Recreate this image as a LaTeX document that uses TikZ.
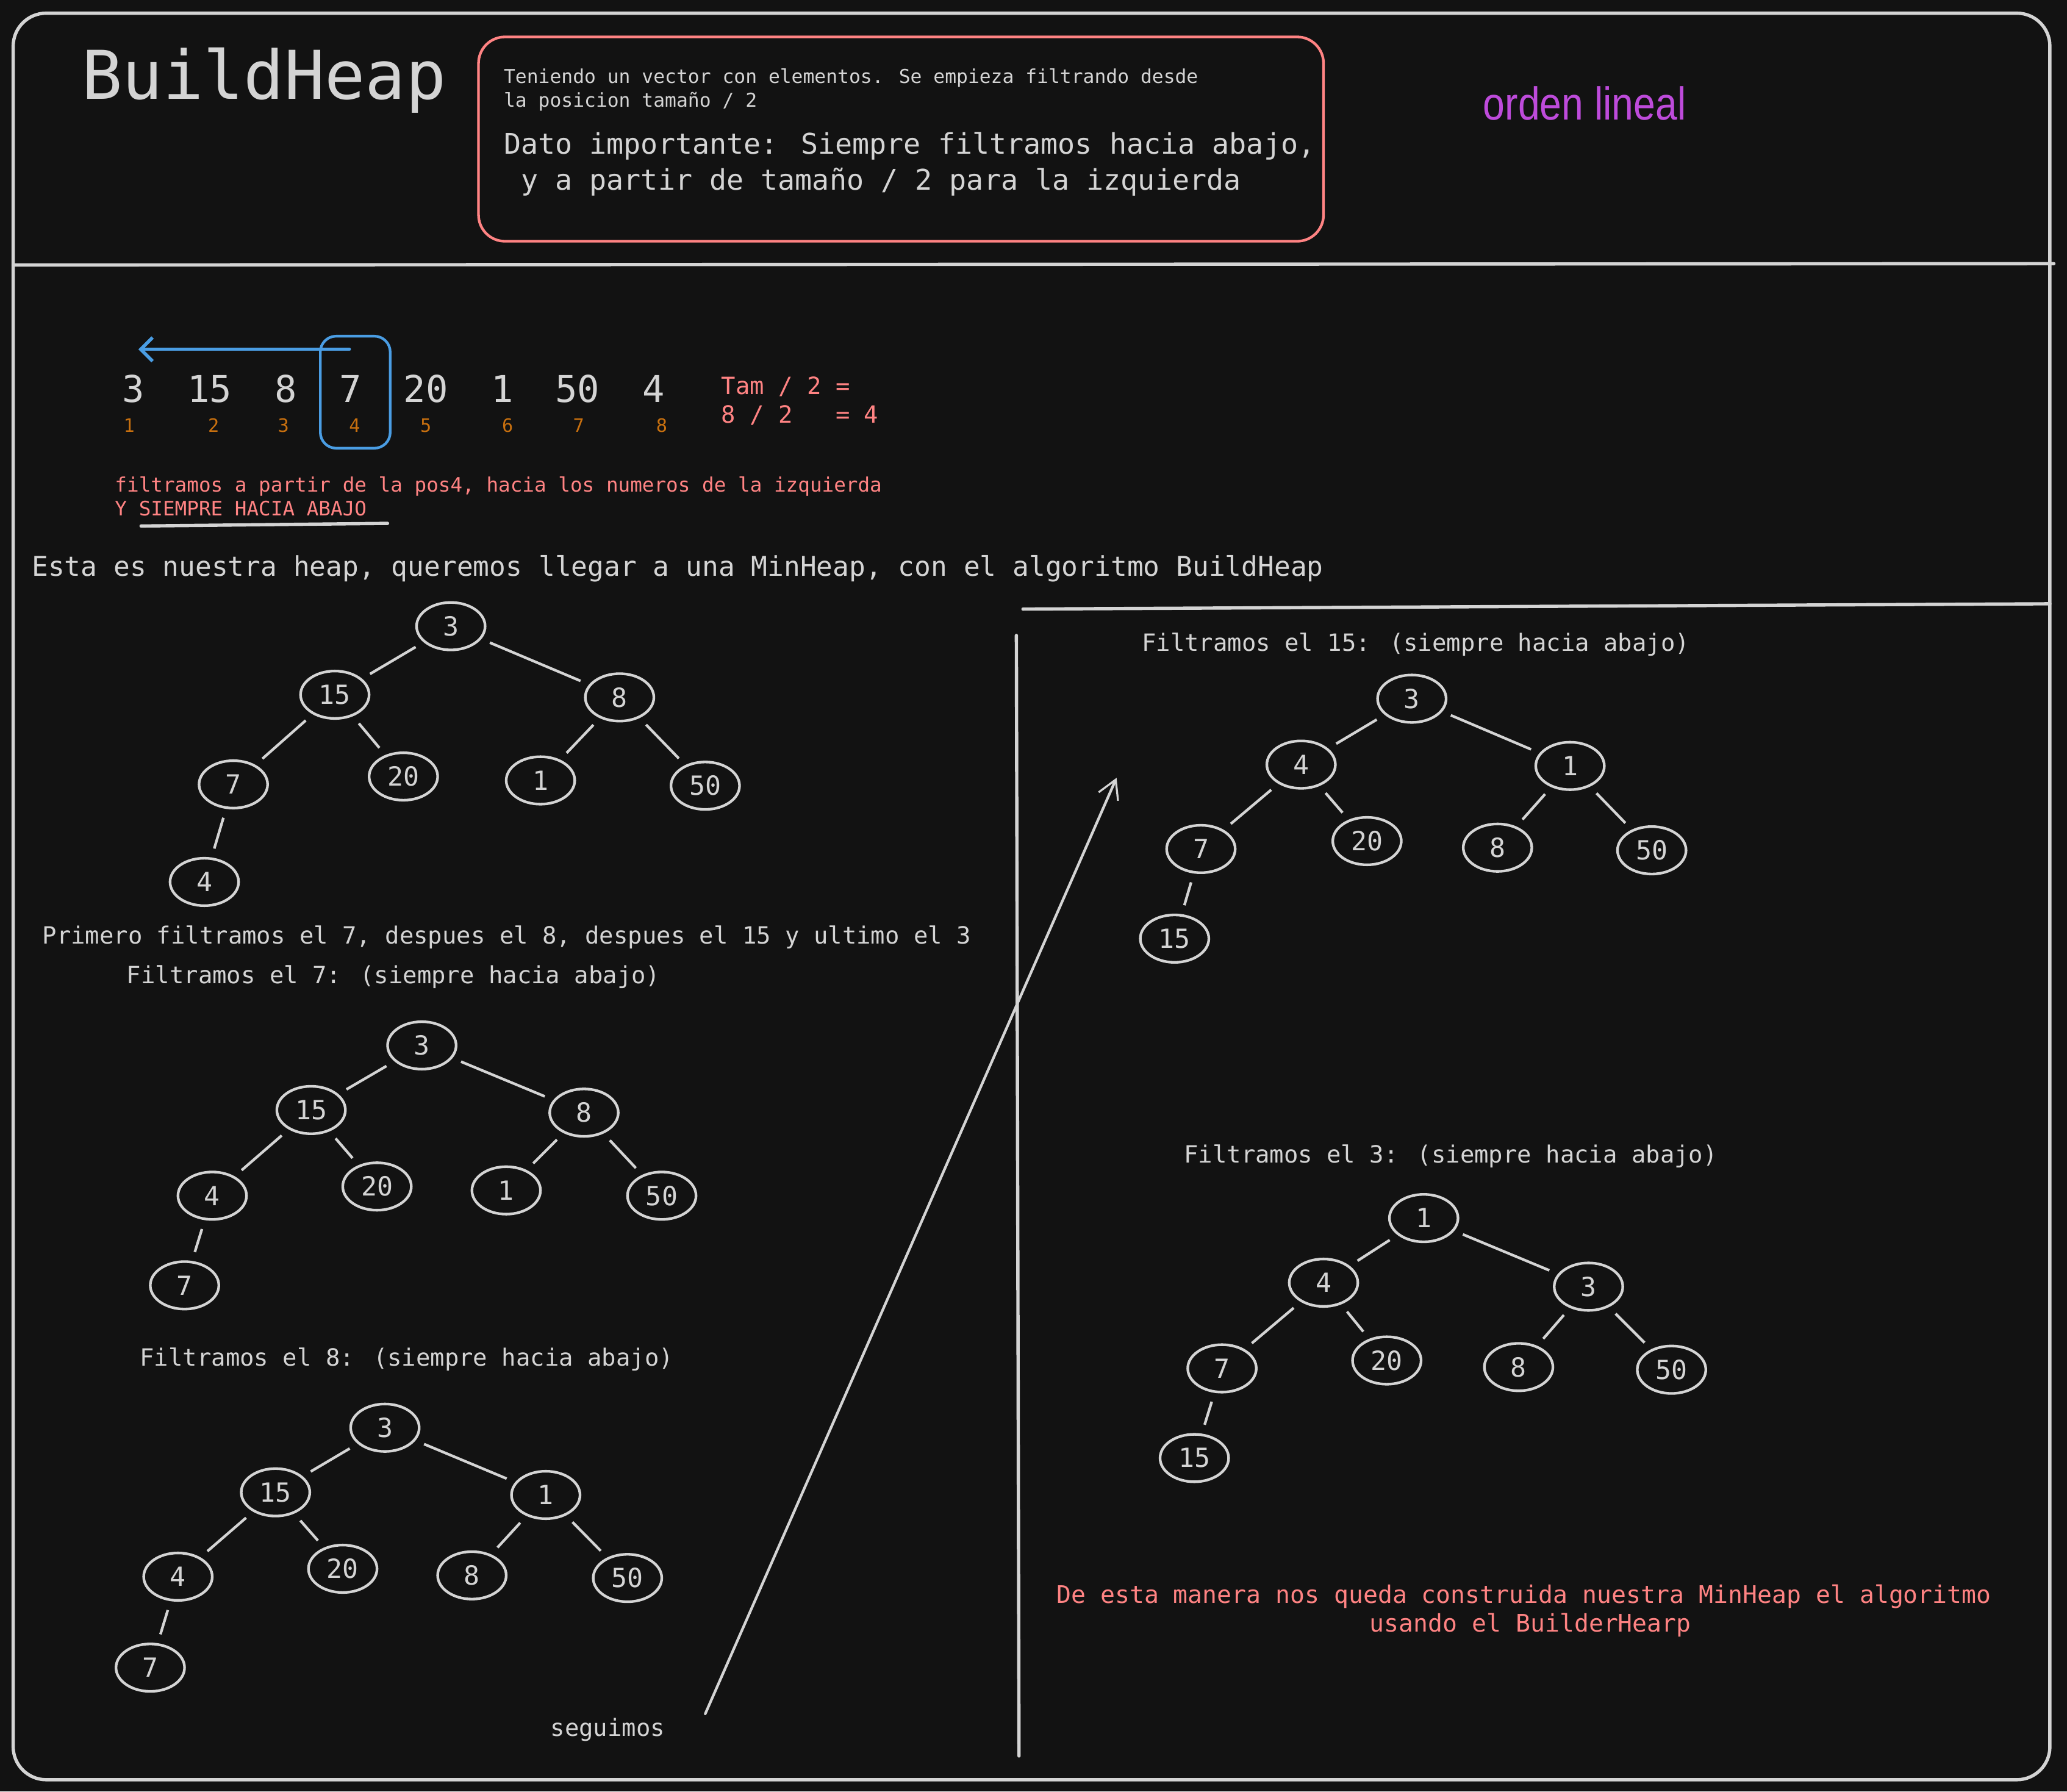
\documentclass[tikz,border=0pt]{standalone}
\usepackage{fontspec}
\setmainfont{DejaVu Sans Mono}
\newfontfamily\letrasans{Liberation Sans}
\usetikzlibrary{shapes.geometric, arrows.meta}

\definecolor{fondo}{HTML}{121212}
\definecolor{trazo}{HTML}{D4D4D4}
\definecolor{salmon}{HTML}{FF8383}
\definecolor{naranja}{HTML}{C8700F}
\definecolor{azul}{HTML}{4A9DE3}
\definecolor{morado}{HTML}{BE4BDB}

\tikzset{
  nodo/.style={draw=trazo, line width=2pt, ellipse, minimum width=52pt, minimum height=36pt,
    inner sep=0pt, text=trazo, font=\fontsize{20}{24}\selectfont},
  rama/.style={draw=trazo, line width=2pt, shorten <=7pt, shorten >=7pt},
  texto/.style={anchor=base west, inner sep=0pt, text=trazo},
  linea/.style={draw=trazo, line width=2.5pt, line cap=round},
}

\begin{document}
\begin{tikzpicture}[x=1pt, y=-1pt]

% fondo y marco
\fill[fondo] (0,0) rectangle (1568,1359);
\useasboundingbox (0,0) rectangle (1568,1359);
\draw[linea, rounded corners=25pt] (10,10) rectangle (1555,1350);
\draw[linea] (10,201) -- (1558,200);
\draw[linea] (776,462) -- (1555,458);
\draw[linea] (771,482) -- (773,1332);

% cabecera
\node[texto, font=\fontsize{51}{60}\selectfont] (titulo) at (62,75) {BuildHeap};
\draw[salmon, line width=2pt, rounded corners=20pt] (363,28) rectangle (1004,183);
\node[texto, font=\fontsize{14.5}{17}\selectfont] (nota1) at (382,63) {Teniendo un vector con elementos. Se empieza filtrando desde};
\node[texto, font=\fontsize{14.5}{17}\selectfont] (nota2) at (382,81) {la posicion tamaño / 2};
\node[texto, font=\fontsize{21.6}{26}\selectfont] (dato1) at (382,117) {Dato importante: Siempre filtramos hacia abajo,};
\node[texto, font=\fontsize{21.6}{26}\selectfont] (dato2) at (382,144) {\ y a partir de tamaño / 2 para la izquierda};
\node[texto, text=morado, font=\letrasans\fontsize{35}{40}\selectfont] (orden) at (1125,91) {\scalebox{0.85}[1]{orden lineal}};

% vector
\node[anchor=base, inner sep=0pt, text=trazo, font=\fontsize{28}{32}\selectfont] (v1) at (101,305) {3};
\node[anchor=base, inner sep=0pt, text=trazo, font=\fontsize{28}{32}\selectfont] (v2) at (159,305) {15};
\node[anchor=base, inner sep=0pt, text=trazo, font=\fontsize{28}{32}\selectfont] (v3) at (217,305) {8};
\node[anchor=base, inner sep=0pt, text=trazo, font=\fontsize{28}{32}\selectfont] (v4) at (266,305) {7};
\node[anchor=base, inner sep=0pt, text=trazo, font=\fontsize{28}{32}\selectfont] (v5) at (323,305) {20};
\node[anchor=base, inner sep=0pt, text=trazo, font=\fontsize{28}{32}\selectfont] (v6) at (381,305) {1};
\node[anchor=base, inner sep=0pt, text=trazo, font=\fontsize{28}{32}\selectfont] (v7) at (438,305) {50};
\node[anchor=base, inner sep=0pt, text=trazo, font=\fontsize{28}{32}\selectfont] (v8) at (496,305) {4};

% posiciones
\node[anchor=base, inner sep=0pt, text=naranja, font=\fontsize{14}{16}\selectfont] (i1) at (98,328) {1};
\node[anchor=base, inner sep=0pt, text=naranja, font=\fontsize{14}{16}\selectfont] (i2) at (162,328) {2};
\node[anchor=base, inner sep=0pt, text=naranja, font=\fontsize{14}{16}\selectfont] (i3) at (215,328) {3};
\node[anchor=base, inner sep=0pt, text=naranja, font=\fontsize{14}{16}\selectfont] (i4) at (269,328) {4};
\node[anchor=base, inner sep=0pt, text=naranja, font=\fontsize{14}{16}\selectfont] (i5) at (323,328) {5};
\node[anchor=base, inner sep=0pt, text=naranja, font=\fontsize{14}{16}\selectfont] (i6) at (385,328) {6};
\node[anchor=base, inner sep=0pt, text=naranja, font=\fontsize{14}{16}\selectfont] (i7) at (439,328) {7};
\node[anchor=base, inner sep=0pt, text=naranja, font=\fontsize{14}{16}\selectfont] (i8) at (502,328) {8};

% marca de la posicion 4 y flecha hacia la izquierda
\draw[azul, line width=2pt, rounded corners=12pt] (243,255) rectangle (296,340);
\coordinate (inicio) at (265,265);
\coordinate (fin) at (105,265);
\draw[azul, line width=2.5pt, line cap=round, -{Straight Barb[length=9pt, width=18pt, line width=2.5pt]}] (inicio) -- (fin);

\node[texto, text=salmon, font=\fontsize{18}{22}\selectfont] (tam1) at (547,299) {Tam / 2 =};
\node[texto, text=salmon, font=\fontsize{18}{22}\selectfont] (tam2) at (547,321) {8 / 2 \ \ = 4};

\node[texto, text=salmon, font=\fontsize{15.1}{18}\selectfont] (rojo1) at (87,373) {filtramos a partir de la pos4, hacia los numeros de la izquierda};
\node[texto, text=salmon, font=\fontsize{15.1}{18}\selectfont] (rojo2) at (87,391) {Y SIEMPRE HACIA ABAJO};
\draw[linea] (107,399) -- (294,397);

\node[texto, font=\fontsize{20.6}{24}\selectfont] (esta) at (24,437) {Esta es nuestra heap, queremos llegar a una MinHeap, con el algoritmo BuildHeap};

% heap inicial
\node[nodo] (ini3) at (342,475) {3};
\node[nodo] (ini15) at (254,527) {15};
\node[nodo] (ini8) at (470,529) {8};
\node[nodo] (ini7) at (177,595) {7};
\node[nodo] (ini20) at (306,589) {20};
\node[nodo] (ini1) at (410,592) {1};
\node[nodo] (ini50) at (535,596) {50};
\node[nodo] (ini4) at (155,669) {4};
\draw[rama] (ini3) -- (ini15);
\draw[rama] (ini3) -- (ini8);
\draw[rama] (ini15) -- (ini7);
\draw[rama] (ini15) -- (ini20);
\draw[rama] (ini8) -- (ini1);
\draw[rama] (ini8) -- (ini50);
\draw[rama] (ini7) -- (ini4);

\node[texto, font=\fontsize{18}{22}\selectfont] (primero) at (32,716) {Primero filtramos el 7, despues el 8, despues el 15 y ultimo el 3};
\node[texto, font=\fontsize{18}{22}\selectfont] (paso7) at (96,746) {Filtramos el 7: (siempre hacia abajo)};

% despues de filtrar el 7
\node[nodo] (fa3) at (320,793) {3};
\node[nodo] (fa15) at (236,842) {15};
\node[nodo] (fa8) at (443,844) {8};
\node[nodo] (fa4) at (161,907) {4};
\node[nodo] (fa20) at (286,900) {20};
\node[nodo] (fa1) at (384,903) {1};
\node[nodo] (fa50) at (502,907) {50};
\node[nodo] (fa7) at (140,975) {7};
\draw[rama] (fa3) -- (fa15);
\draw[rama] (fa3) -- (fa8);
\draw[rama] (fa15) -- (fa4);
\draw[rama] (fa15) -- (fa20);
\draw[rama] (fa8) -- (fa1);
\draw[rama] (fa8) -- (fa50);
\draw[rama] (fa4) -- (fa7);

\node[texto, font=\fontsize{18}{22}\selectfont] (paso8) at (106,1036) {Filtramos el 8: (siempre hacia abajo)};

% despues de filtrar el 8
\node[nodo] (fb3) at (292,1083) {3};
\node[nodo] (fb15) at (209,1132) {15};
\node[nodo] (fb1) at (414,1134) {1};
\node[nodo] (fb4) at (135,1196) {4};
\node[nodo] (fb20) at (260,1190) {20};
\node[nodo] (fb8) at (358,1195) {8};
\node[nodo] (fb50) at (476,1197) {50};
\node[nodo] (fb7) at (114,1265) {7};
\draw[rama] (fb3) -- (fb15);
\draw[rama] (fb3) -- (fb1);
\draw[rama] (fb15) -- (fb4);
\draw[rama] (fb15) -- (fb20);
\draw[rama] (fb1) -- (fb8);
\draw[rama] (fb1) -- (fb50);
\draw[rama] (fb4) -- (fb7);

% seguimos
\node[anchor=base, inner sep=0pt, text=trazo, font=\fontsize{18}{22}\selectfont] (seguimos) at (461,1317) {seguimos};
\coordinate (desde) at (535,1300);
\coordinate (hasta) at (847,590);
\draw[trazo, line width=2pt, line cap=round, -{Straight Barb[length=14pt, width=16pt, line width=1.5pt]}] (desde) -- (hasta);

\node[texto, font=\fontsize{18}{22}\selectfont] (paso15) at (866,494) {Filtramos el 15: (siempre hacia abajo)};

% despues de filtrar el 15
\node[nodo] (fc3) at (1071,530) {3};
\node[nodo] (fc4) at (987,580) {4};
\node[nodo] (fc1) at (1191,581) {1};
\node[nodo] (fc7) at (911,644) {7};
\node[nodo] (fc20) at (1037,638) {20};
\node[nodo] (fc8) at (1136,643) {8};
\node[nodo] (fc50) at (1253,645) {50};
\node[nodo] (fc15) at (891,712) {15};
\draw[rama] (fc3) -- (fc4);
\draw[rama] (fc3) -- (fc1);
\draw[rama] (fc4) -- (fc7);
\draw[rama] (fc4) -- (fc20);
\draw[rama] (fc1) -- (fc8);
\draw[rama] (fc1) -- (fc50);
\draw[rama] (fc7) -- (fc15);

\node[texto, font=\fontsize{18}{22}\selectfont] (paso3) at (898,882) {Filtramos el 3: (siempre hacia abajo)};

% despues de filtrar el 3: MinHeap
\node[nodo] (fd1) at (1080,924) {1};
\node[nodo] (fd4) at (1004,973) {4};
\node[nodo] (fd3) at (1205,976) {3};
\node[nodo] (fd7) at (927,1038) {7};
\node[nodo] (fd20) at (1052,1032) {20};
\node[nodo] (fd8) at (1152,1037) {8};
\node[nodo] (fd50) at (1268,1039) {50};
\node[nodo] (fd15) at (906,1106) {15};
\draw[rama] (fd1) -- (fd4);
\draw[rama] (fd1) -- (fd3);
\draw[rama] (fd4) -- (fd7);
\draw[rama] (fd4) -- (fd20);
\draw[rama] (fd3) -- (fd8);
\draw[rama] (fd3) -- (fd50);
\draw[rama] (fd7) -- (fd15);

\node[anchor=base, inner sep=0pt, text=salmon, font=\fontsize{18.4}{22}\selectfont] (final1) at (1156,1216) {De esta manera nos queda construida nuestra MinHeap el algoritmo};
\node[anchor=base, inner sep=0pt, text=salmon, font=\fontsize{18.4}{22}\selectfont] (final2) at (1161,1238) {usando el BuilderHearp};

\end{tikzpicture}
\end{document}
